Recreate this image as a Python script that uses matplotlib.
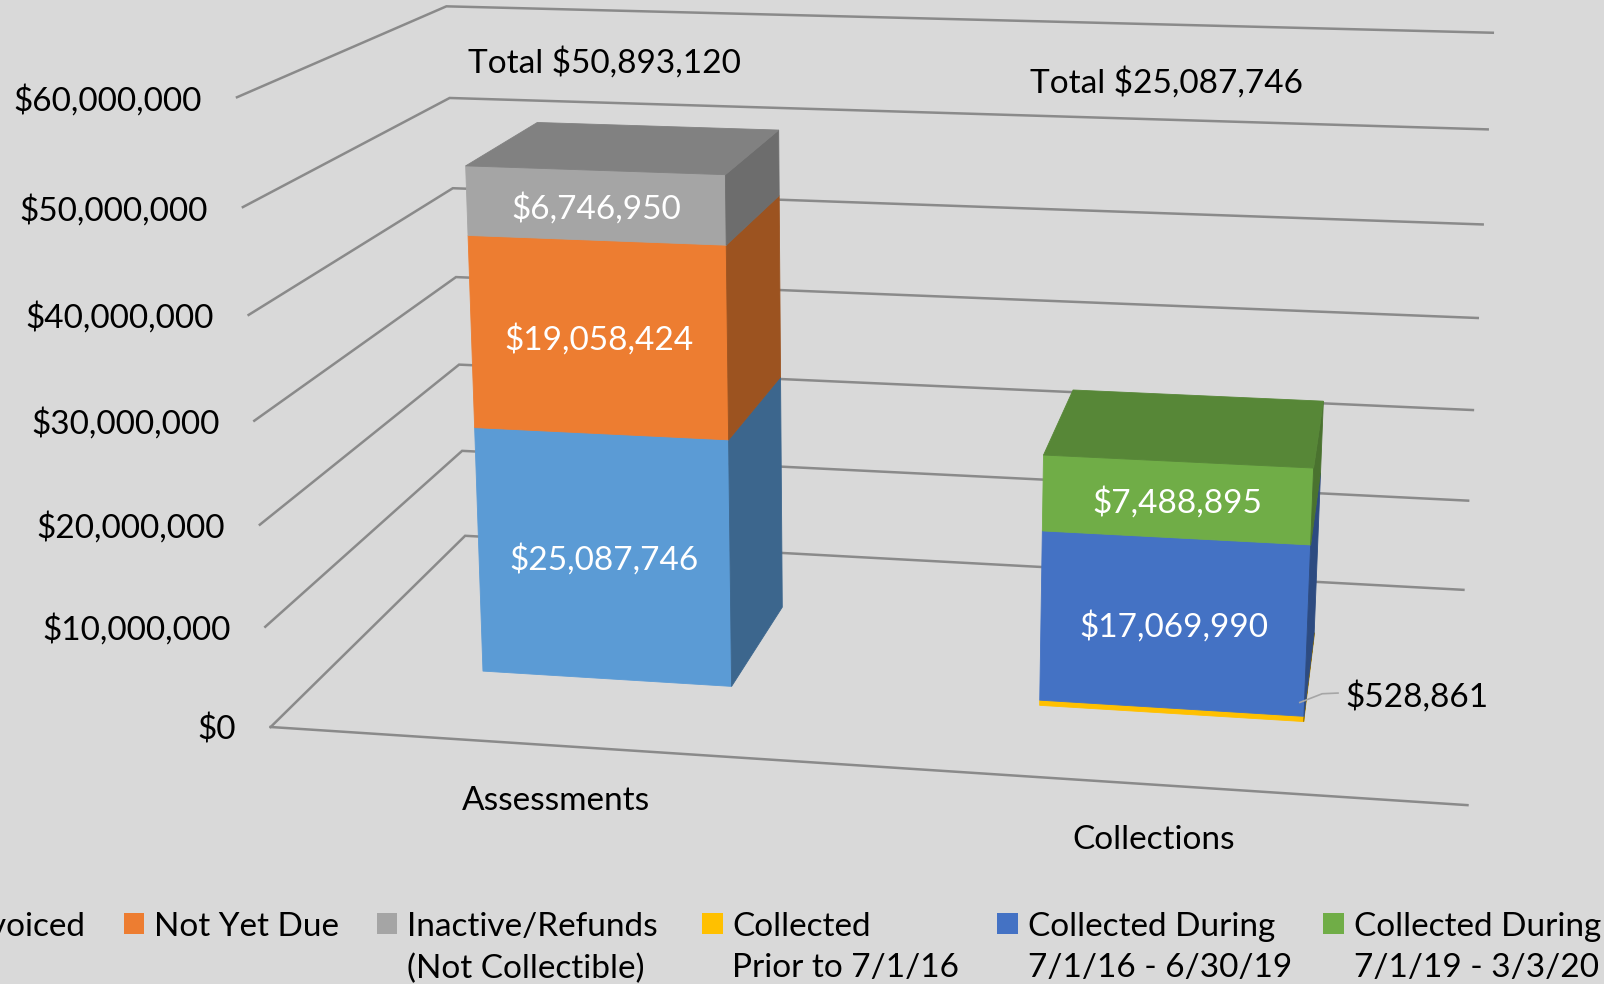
import numpy as np
import matplotlib
matplotlib.use("Agg")
import matplotlib.pyplot as plt
from matplotlib.patches import Polygon, Rectangle
from matplotlib.colors import to_rgb

# ---------------- data ----------------
categories = ["Assessments", "Collections"]
series_names = ["Invoiced", "Not Yet Due", "Inactive/Refunds\n(Not Collectible)",
                "Collected\nPrior to 7/1/16", "Collected During\n7/1/16 - 6/30/19",
                "Collected During\n7/1/19 - 3/3/20"]
invoiced = [25087746, 0]
not_yet_due = [19058424, 0]
inactive = [6746950, 0]
collected_prior = [0, 528861]
collected_1619 = [0, 17069990]
collected_1920 = [0, 7488895]
y_ticks = [0, 10e6, 20e6, 30e6, 40e6, 50e6, 60e6]
colors = ["#5B9BD5", "#ED7D31", "#A5A5A5", "#FFC000", "#4472C4", "#70AD47"]

series = [invoiced, not_yet_due, inactive, collected_prior, collected_1619, collected_1920]

# ---------------- style / view ----------------
W, H = 1604, 984
BG = "#D9D9D9"
GRID = "#8A8A8A"
FS = 24
plt.rcParams['font.family'] = ['Lato', 'DejaVu Sans']

# 3-D view: perspective camera mapping (category axis, depth, value in $M, 1)
# to homogeneous figure pixels (Excel-like 3-D rotation + perspective)
CAMERA = np.array([
    [5.529250e+02, 2.868517e+02, -7.716429e-01, 2.706460e+02],
    [1.411225e+01, -8.480396e+01, -1.058250e+01, 7.270042e+02],
    [-3.099292e-02, 1.986038e-01, -8.895908e-04, 1.000000e+00],
])
BAR_HALF_WIDTH = 0.227   # in category units
BAR_DEPTH = (0.30, 0.70)  # front / back, in depth units (0 = front wall edge, 1 = back wall)
N_CAT = len(categories)


def proj(x, y, zM):
    h = CAMERA @ np.array([x, y, zM, 1.0])
    return h[0] / h[2], h[1] / h[2]


def shade(col, f):
    r, g, b = to_rgb(col)
    return (r * f, g * f, b * f)


def box_faces(x0, x1, ya, yb, z0, z1):
    # vertices ordered counter-clockwise seen from outside
    return {
        'front': [(x0, ya, z0), (x1, ya, z0), (x1, ya, z1), (x0, ya, z1)],
        'back': [(x1, yb, z0), (x0, yb, z0), (x0, yb, z1), (x1, yb, z1)],
        'left': [(x0, yb, z0), (x0, ya, z0), (x0, ya, z1), (x0, yb, z1)],
        'right': [(x1, ya, z0), (x1, yb, z0), (x1, yb, z1), (x1, ya, z1)],
        'top': [(x0, ya, z1), (x1, ya, z1), (x1, yb, z1), (x0, yb, z1)],
    }


face_shade = {'front': 1.0, 'back': 1.0, 'left': 0.66, 'right': 0.66, 'top': 0.78}

fig = plt.figure(figsize=(W / 100, H / 100), dpi=100, facecolor=BG)
ax = fig.add_axes([0, 0, 1, 1])
ax.set_xlim(0, W)
ax.set_ylim(H, 0)
ax.axis('off')

# ---------------- walls: gridlines + value labels ----------------
for v in y_ticks:
    vm = v / 1e6
    a = proj(0, 0, vm)
    b = proj(0, 1, vm)
    c = proj(N_CAT, 1, vm)
    ax.plot([a[0], b[0], c[0]], [a[1], b[1], c[1]], color=GRID, lw=1.8,
            solid_joinstyle='miter', zorder=1)
    ax.text(a[0] - 35, a[1] + 3, f"${v:,.0f}", ha='right', va='center',
            fontsize=FS, color='black')
a = proj(0, 0, 0)
c = proj(N_CAT, 0, 0)
ax.plot([a[0], c[0]], [a[1], c[1]], color=GRID, lw=1.8, zorder=1)

# ---------------- stacked 3-D columns ----------------
y0, y1 = BAR_DEPTH
for ci, cat in enumerate(categories):
    xc = ci + 0.5
    x0, x1 = xc - BAR_HALF_WIDTH, xc + BAR_HALF_WIDTH
    vals = [s[ci] for s in series]
    nz = [i for i, v in enumerate(vals) if v > 0]
    base = 0.0
    for k, si in enumerate(nz):
        z0 = base / 1e6
        z1 = (base + vals[si]) / 1e6
        faces = box_faces(x0, x1, y0, y1, z0, z1)
        for name, f3 in faces.items():
            if name == 'top' and k != len(nz) - 1:
                continue
            p2 = np.array([proj(*p) for p in f3])
            area = 0.5 * np.sum(p2[:, 0] * np.roll(p2[:, 1], -1) - np.roll(p2[:, 0], -1) * p2[:, 1])
            if area >= 0:   # back-facing
                continue
            col = shade(colors[si], face_shade[name])
            ax.add_patch(Polygon(p2, closed=True, facecolor=col, edgecolor=col,
                                 lw=0.6, zorder=3))
        fc = np.array([proj(*p) for p in faces['front']]).mean(axis=0)
        lab = f"${vals[si]:,.0f}"
        if vals[si] > 2e6:
            ax.text(fc[0], fc[1] + 3, lab, ha='center', va='center', fontsize=FS,
                    color='white', zorder=5)
        else:
            s = np.array(proj(x1, y0, (z0 + z1) / 2)) + np.array([-4.0, -16.5])
            ax.plot([s[0], s[0] + 22.4, s[0] + 38.2], [s[1], s[1] - 8.7, s[1] - 9.4],
                    color="#A6A6A6", lw=1.2, zorder=5)
            ax.text(s[0] + 46, s[1] - 6, lab, ha='left', va='center', fontsize=FS,
                    color='black', zorder=5)
        base += vals[si]
    fl = proj(xc, 0, 0)
    ax.text(fl[0], fl[1] + 55, cat, ha='center', va='center', fontsize=FS, color='black')

# ---------------- totals ----------------
totals = [sum(s[i] for s in series) for i in range(N_CAT)]
total_pos = [(604.6, 63.0), (1166.2, 82.5)]
for t, (tx, ty) in zip(totals, total_pos):
    ax.text(tx, ty, f"Total ${t:,.0f}", ha='center', va='center', fontsize=FS, color='black')

# ---------------- legend (overflows both edges, as in the original) ----------------
leg_sq_x = [-70.0, 123.8, 376.5, 702.0, 997.0, 1323.0]
leg_y = 923.8
for i, (name, col) in enumerate(zip(series_names, colors)):
    if i == 0:
        ax.text(85, leg_y - 12, name, ha='right', va='top', fontsize=FS,
                color='black', linespacing=1.47)
        continue
    ax.add_patch(Rectangle((leg_sq_x[i], leg_y - 10.5), 20.5, 20.5, facecolor=col,
                           edgecolor='none'))
    ax.text(leg_sq_x[i] + 30.5, leg_y - 12, name, ha='left', va='top', fontsize=FS,
            color='black', linespacing=1.47)

fig.savefig("out.png", dpi=100, facecolor=BG)
